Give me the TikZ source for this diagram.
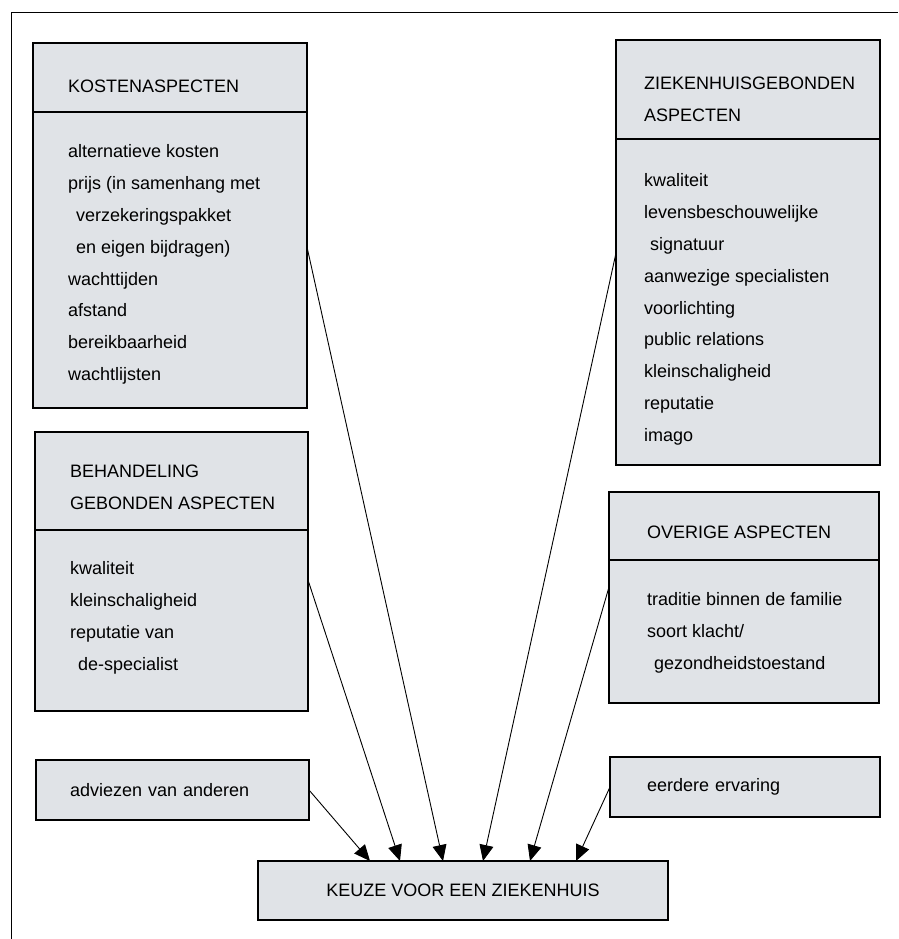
\documentclass[tikz,border=0pt]{standalone}
\usepackage{fontspec}
\setmainfont{Liberation Sans}
\usetikzlibrary{arrows.meta,positioning}
\definecolor{vakgrijs}{RGB}{224,227,231}

\tikzset{
  vak/.style={draw, line width=1.2pt, fill=vakgrijs, inner sep=0pt, outer sep=0pt, anchor=north west},
  tekst/.style={inner sep=0pt, anchor=base west, align=left, font=\fontsize{18}{31.8}\selectfont},
  pijl/.style={line width=0.9pt, -{Triangle[length=16pt,width=14pt]}},
}

\begin{document}
\begin{tikzpicture}[x=1pt,y=1pt]
    \useasboundingbox (0,0) rectangle (898,939);
    % kader
    \draw[line width=1pt] (11,0) -- (11,926) -- (898,926);

    % links boven: kostenaspecten (tekst: basislijn van de laatste regel)
    \node[vak, minimum width=274, minimum height=69] (kostenkop) at (33,896) {};
    \node[vak, minimum width=274, minimum height=296] (kostenlijst) at (kostenkop.south west) {};
    \node[tekst] (kostenkoptekst) at (68,846) {KOSTENASPECTEN};
    \node[tekst] (kostentekst) at (68,558.4) {alternatieve kosten\\prijs (in samenhang met\\\hspace*{8pt}verzekeringspakket\\\hspace*{8pt}en eigen bijdragen)\\wachttijden\\afstand\\bereikbaarheid\\wachtlijsten};

    % rechts boven: ziekenhuisgebonden aspecten
    \node[vak, minimum width=264, minimum height=99] (ziekenhuiskop) at (616,899) {};
    \node[vak, minimum width=264, minimum height=326] (ziekenhuislijst) at (ziekenhuiskop.south west) {};
    \node[tekst] (ziekenhuiskoptekst) at (644,817.2) {ZIEKENHUISGEBONDEN\\ASPECTEN};
    \node[tekst] (ziekenhuistekst) at (644,497.6) {kwaliteit\\levensbeschouwelijke\\\hspace*{6pt}signatuur\\aanwezige specialisten\\voorlichting\\public relations\\kleinschaligheid\\reputatie\\imago};

    % links midden: behandeling
    \node[vak, minimum width=273, minimum height=98] (behandelingkop) at (35,507) {};
    \node[vak, minimum width=273, minimum height=181] (behandelinglijst) at (behandelingkop.south west) {};
    \node[tekst] (behandelingkoptekst) at (70,429.2) {BEHANDELING\\GEBONDEN ASPECTEN};
    \node[tekst] (behandelingtekst) at (70,268.6) {kwaliteit\\kleinschaligheid\\reputatie van\\\hspace*{8pt}de-specialist};

    % rechts midden: overige aspecten
    \node[vak, minimum width=270, minimum height=68] (overigekop) at (609,447) {};
    \node[vak, minimum width=270, minimum height=143] (overigelijst) at (overigekop.south west) {};
    \node[tekst] (overigekoptekst) at (647,400) {OVERIGE ASPECTEN};
    \node[tekst] (overigetekst) at (647,269.4) {traditie binnen de familie\\soort klacht/\\\hspace*{7pt}gezondheidstoestand};

    % onder
    \node[vak, minimum height=60, text width=205, inner xsep=34, align=left, font=\fontsize{18}{22}\selectfont] (adviezen) at (36,179) {adviezen van anderen};
    \node[vak, minimum height=60, text width=196, inner xsep=37, align=left, font=\fontsize{18}{22}\selectfont] (eerdere) at (610,182) {eerdere ervaring};
    \node[vak, minimum width=410, minimum height=59, font=\fontsize{18}{22}\selectfont] (keuze) at (258,78) {KEUZE VOOR EEN ZIEKENHUIS};

    % pijlen
    \draw[pijl] (adviezen.east) -- ([xshift=-93pt]keuze.north);
    \draw[pijl] ([yshift=-50pt]behandelinglijst.north east) -- ([xshift=-63pt]keuze.north);
    \draw[pijl] ([yshift=-135pt]kostenlijst.north east) -- ([xshift=-20pt]keuze.north);
    \draw[pijl] ([yshift=-114pt]ziekenhuislijst.north west) -- ([xshift=20pt]keuze.north);
    \draw[pijl] ([yshift=-27pt]overigelijst.north west) -- ([xshift=67pt]keuze.north);
    \draw[pijl] (eerdere.west) -- ([xshift=113pt]keuze.north);
\end{tikzpicture}
\end{document}
